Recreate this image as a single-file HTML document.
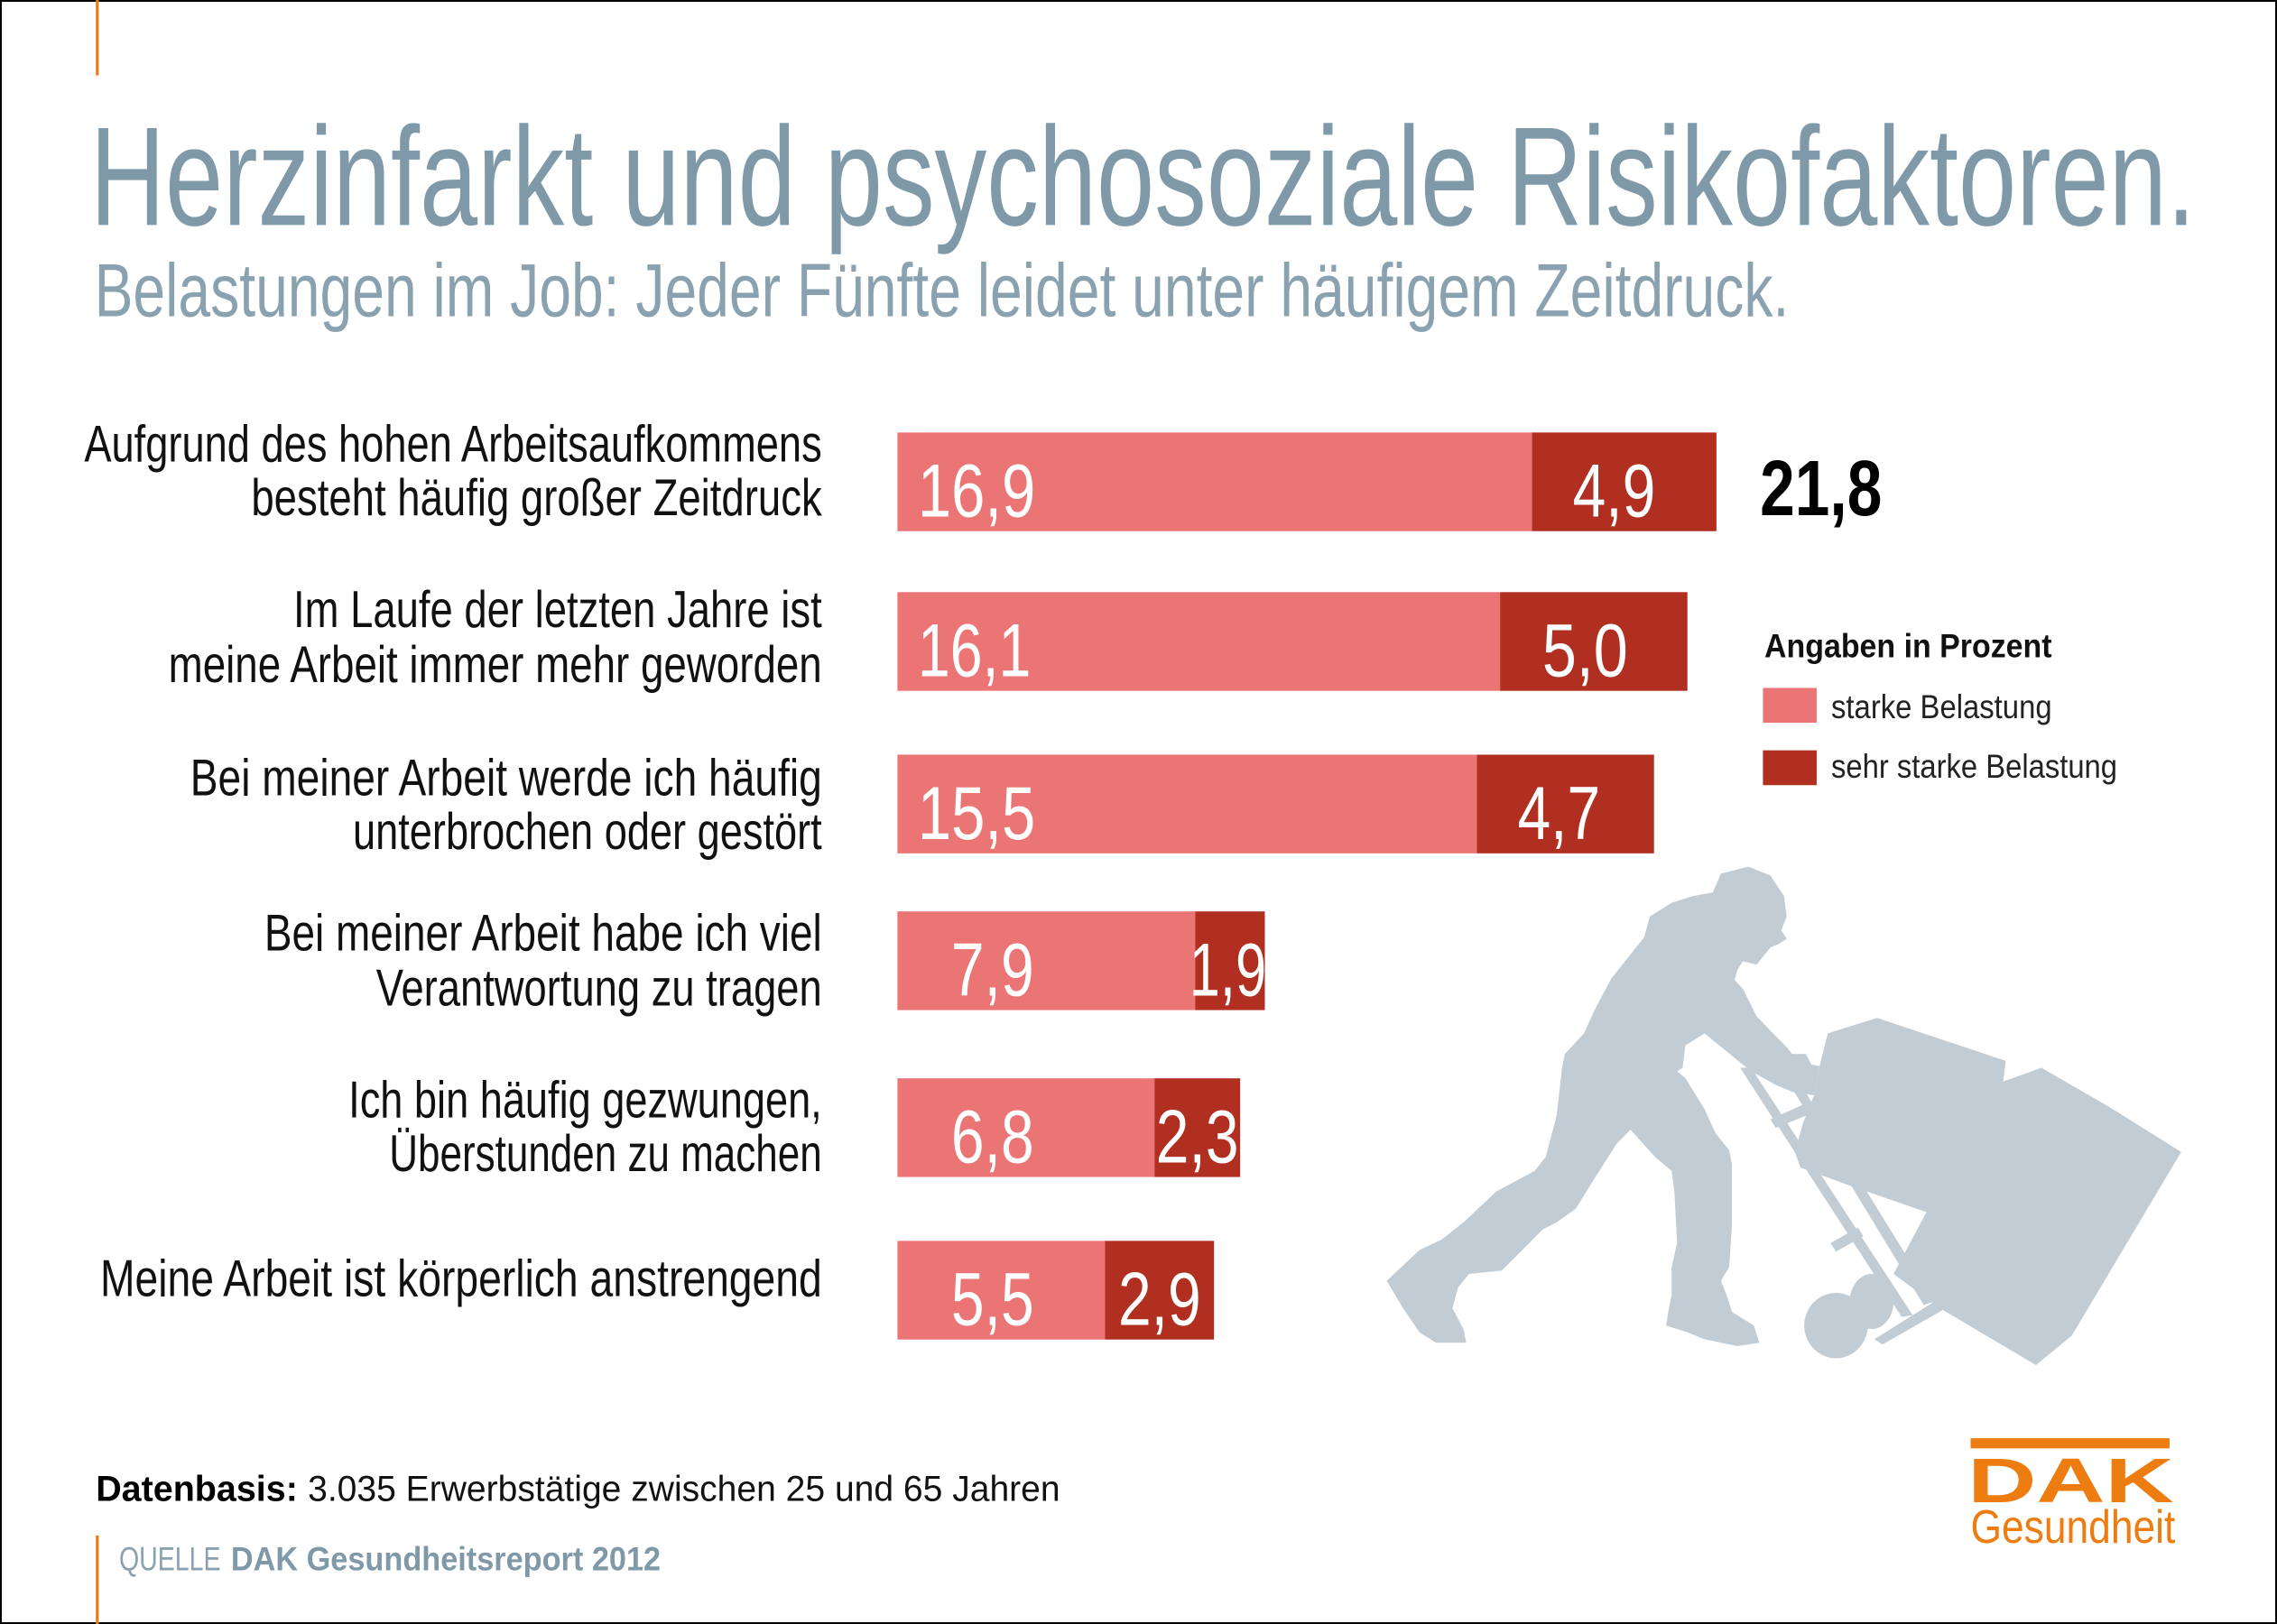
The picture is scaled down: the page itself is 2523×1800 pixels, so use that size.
<!DOCTYPE html>
<html><head><meta charset="utf-8"><style>
html,body{margin:0;padding:0;background:#fff;}
svg{display:block;}
text{font-family:"Liberation Sans",sans-serif;}
</style></head><body>
<svg width="2523" height="1800" viewBox="0 0 1568 1119" preserveAspectRatio="none" xmlns="http://www.w3.org/2000/svg">
<rect x="0.5" y="0.5" width="1567" height="1118" fill="#fff" stroke="#000" stroke-width="1.5"/>
<rect x="66" y="0" width="2" height="52" fill="#e87d1e"/>
<rect x="66" y="1058" width="2" height="61" fill="#e87d1e"/>

<text x="62" y="155" font-size="97" fill="#7f99a8" textLength="1450" lengthAdjust="spacingAndGlyphs">Herzinfarkt und psychosoziale Risikofaktoren.</text>
<text x="65" y="218" font-size="52" fill="#8aa2b0" textLength="1167" lengthAdjust="spacingAndGlyphs">Belastungen im Job: Jeder Fünfte leidet unter häufigem Zeitdruck.</text>

<!-- silhouette -->
<g transform="translate(932.3,584.2) scale(0.3773,0.2368)" fill="#c1ccd4">
<path d="M655,130 L670,75 L720,55 L760,80 L785,140 L790,200 L780,240 L790,265 L775,280 L760,290 L745,320 L735,340 L710,330 L700,355 L695,385 L710,410 L735,490 L765,540 L790,580 L800,600 L825,600 L835,630 L850,635 L840,720 L800,710 L770,690 L725,650 L640,540 L605,575 L600,640 L590,650 L605,670 L640,760 L660,830 L685,880 L690,920 L690,1100 L685,1220 L670,1260 L680,1300 L690,1350 L730,1390 L740,1440 L700,1450 L640,1430 L610,1410 L570,1390 L575,1340 L580,1300 L580,1220 L590,1150 L585,1000 L580,940 L550,900 L505,820 L480,860 L440,960 L405,1050 L370,1090 L345,1110 L295,1190 L270,1230 L210,1240 L190,1280 L180,1340 L200,1400 L205,1440 L150,1440 L120,1410 L90,1340 L60,1260 L120,1170 L160,1140 L200,1090 L260,1000 L330,940 L350,900 L370,780 L380,640 L385,600 L420,540 L440,470 L470,380 L530,260 L540,200 L580,160 L620,140 Z"/>
<path d="M865,540 L955,495 L1190,620 L1185,680 L1255,640 L1380,755 L1510,885 L1310,1420 L1245,1505 L1070,1340 L985,1240 L1045,1060 L900,980 L815,930 L805,885 L820,800 L840,720 L850,635 Z"/>
<path d="M705,640 L725,640 L1020,1360 L1000,1365 Z"/>
<path d="M800,700 L820,700 L1060,1320 L1040,1330 Z"/>
<path d="M760,790 L830,740 L840,770 L770,815 Z"/>
<path d="M870,1150 L920,1105 L930,1130 L880,1175 Z"/>
<path d="M950,1430 L1060,1320 L1075,1345 L965,1445 Z"/>
<ellipse cx="880" cy="1390" rx="58" ry="95"/>
<ellipse cx="945" cy="1320" rx="40" ry="80"/>
</g>

<!-- bars -->
<g>
<rect x="618" y="298" width="437" height="68" fill="#eb7575"/><rect x="1055" y="298" width="127" height="68" fill="#b02f20"/>
<rect x="618" y="408" width="415" height="68" fill="#eb7575"/><rect x="1033" y="408" width="129" height="68" fill="#b02f20"/>
<rect x="618" y="520" width="399" height="68" fill="#eb7575"/><rect x="1017" y="520" width="122" height="68" fill="#b02f20"/>
<rect x="618" y="628" width="205" height="68" fill="#eb7575"/><rect x="823" y="628" width="48" height="68" fill="#b02f20"/>
<rect x="618" y="743" width="177" height="68" fill="#eb7575"/><rect x="795" y="743" width="59" height="68" fill="#b02f20"/>
<rect x="618" y="855" width="143" height="68" fill="#eb7575"/><rect x="761" y="855" width="75" height="68" fill="#b02f20"/>
</g>
<g font-size="52" fill="#fff">
<text x="632" y="356" textLength="81" lengthAdjust="spacingAndGlyphs">16,9</text>
<text x="1083" y="356" textLength="57" lengthAdjust="spacingAndGlyphs">4,9</text>
<text x="632" y="466" textLength="78" lengthAdjust="spacingAndGlyphs">16,1</text>
<text x="1062" y="466" textLength="59" lengthAdjust="spacingAndGlyphs">5,0</text>
<text x="632" y="578" textLength="81" lengthAdjust="spacingAndGlyphs">15,5</text>
<text x="1045" y="578" textLength="57" lengthAdjust="spacingAndGlyphs">4,7</text>
<text x="655" y="686" textLength="57" lengthAdjust="spacingAndGlyphs">7,9</text>
<text x="819" y="686" textLength="53" lengthAdjust="spacingAndGlyphs">1,9</text>
<text x="655" y="801" textLength="57" lengthAdjust="spacingAndGlyphs">6,8</text>
<text x="796" y="801" textLength="57" lengthAdjust="spacingAndGlyphs">2,3</text>
<text x="655" y="913" textLength="57" lengthAdjust="spacingAndGlyphs">5,5</text>
<text x="770" y="913" textLength="57" lengthAdjust="spacingAndGlyphs">2,9</text>
</g>
<text x="1212" y="355" font-size="54" font-weight="bold" fill="#000" textLength="84" lengthAdjust="spacingAndGlyphs">21,8</text>

<!-- row labels -->
<g font-size="36" fill="#111" text-anchor="end">
<text x="566" y="318" textLength="508" lengthAdjust="spacingAndGlyphs">Aufgrund des hohen Arbeitsaufkommens</text>
<text x="566" y="355" textLength="393" lengthAdjust="spacingAndGlyphs">besteht häufig großer Zeitdruck</text>
<text x="566" y="432" textLength="364" lengthAdjust="spacingAndGlyphs">Im Laufe der letzten Jahre ist</text>
<text x="566" y="470" textLength="450" lengthAdjust="spacingAndGlyphs">meine Arbeit immer mehr geworden</text>
<text x="566" y="548" textLength="435" lengthAdjust="spacingAndGlyphs">Bei meiner Arbeit werde ich häufig</text>
<text x="566" y="585" textLength="323" lengthAdjust="spacingAndGlyphs">unterbrochen oder gestört</text>
<text x="566" y="655" textLength="384" lengthAdjust="spacingAndGlyphs">Bei meiner Arbeit habe ich viel</text>
<text x="566" y="693" textLength="307" lengthAdjust="spacingAndGlyphs">Verantwortung zu tragen</text>
<text x="566" y="770" textLength="326" lengthAdjust="spacingAndGlyphs">Ich bin häufig gezwungen,</text>
<text x="566" y="807" textLength="298" lengthAdjust="spacingAndGlyphs">Überstunden zu machen</text>
<text x="566" y="893" textLength="497" lengthAdjust="spacingAndGlyphs">Meine Arbeit ist körperlich anstrengend</text>
</g>

<!-- legend -->
<text x="1215" y="453" font-size="23" font-weight="bold" fill="#111" textLength="198" lengthAdjust="spacingAndGlyphs">Angaben in Prozent</text>
<rect x="1214" y="474" width="37" height="24" fill="#eb7575"/>
<rect x="1214" y="517" width="37" height="24" fill="#b02f20"/>
<text x="1261" y="495" font-size="23" fill="#222" textLength="152" lengthAdjust="spacingAndGlyphs">starke Belastung</text>
<text x="1261" y="536" font-size="23" fill="#222" textLength="197" lengthAdjust="spacingAndGlyphs">sehr starke Belastung</text>

<!-- footer -->
<text x="66" y="1034" font-size="25" font-weight="bold" fill="#000" textLength="139" lengthAdjust="spacingAndGlyphs">Datenbasis:</text>
<text x="212" y="1034" font-size="25" fill="#111" textLength="518" lengthAdjust="spacingAndGlyphs">3.035 Erwerbstätige zwischen 25 und 65 Jahren</text>
<text x="82" y="1082" font-size="23" fill="#8aa2b0" textLength="70" lengthAdjust="spacingAndGlyphs">QUELLE</text>
<text x="159" y="1082" font-size="23" font-weight="bold" fill="#7f99a8" textLength="296" lengthAdjust="spacingAndGlyphs">DAK Gesundheitsreport 2012</text>

<!-- DAK logo -->
<rect x="1357" y="991" width="137" height="7" fill="#ee7d11"/>
<text x="1355" y="1035" font-size="43" font-weight="bold" fill="#ee7d11" textLength="142" lengthAdjust="spacingAndGlyphs">DAK</text>
<text x="1357" y="1063" font-size="32" fill="#ee7d11" textLength="141" lengthAdjust="spacingAndGlyphs">Gesundheit</text>
</svg>
</body></html>
